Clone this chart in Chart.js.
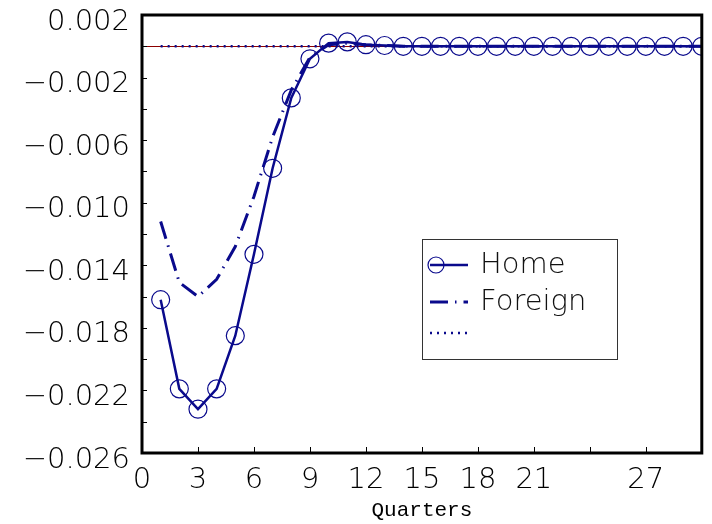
<!DOCTYPE html>
<html>
<head>
<meta charset="utf-8">
<script src="https://cdn.jsdelivr.net/npm/chart.js@4/dist/chart.umd.min.js"></script>
<style>
  html, body { margin: 0; padding: 0; background: #fff; }
  #chart { display: block; }
</style>
</head>
<body>
<canvas id="chart" width="712" height="524"></canvas>
<script>
// Data
const quarters = [1, 2, 3, 4, 5, 6, 7, 8, 9, 10, 11, 12, 13, 14, 15,
                  16, 17, 18, 19, 20, 21, 22, 23, 24, 25, 26, 27, 28, 29, 30];
const homeValues = [-0.0162, -0.0219, -0.0232, -0.0219, -0.0185, -0.0133, -0.0078, -0.0033, -0.0008, 0.0002,
                    0.00028, 0.0001, 0.00005, 0, 0, 0, 0, 0, 0, 0,
                    0, 0, 0, 0, 0, 0, 0, 0, 0, 0];
const foreignValues = [-0.0112, -0.0151, -0.0160, -0.0149, -0.0128, -0.0096, -0.0058, -0.0028, -0.0007, 0.0001,
                       0.0002, 0.0001, 0.00005, 0, 0, 0, 0, 0, 0, 0,
                       0, 0, 0, 0, 0, 0, 0, 0, 0, 0];
const zeroValues = [0, 0, 0, 0, 0, 0, 0, 0, 0, 0, 0, 0, 0, 0, 0,
                    0, 0, 0, 0, 0, 0, 0, 0, 0, 0, 0, 0, 0, 0, 0];
const seriesNames = ['Home', 'Foreign', ''];
const xTickLabels = ['0', '3', '6', '9', '12', '15', '18', '21', '', '27', ''];
const yTickLabels = ['\u22120.026', '', '\u22120.022', '', '\u22120.018', '', '\u22120.014', '',
                     '\u22120.010', '', '\u22120.006', '', '\u22120.002', '', '0.002'];

const blue = 'rgb(10, 10, 140)';
const tickFont = { family: 'DejaVu Sans', size: 29, weight: 200 };

// Frame, inward tick marks and the boxed legend
const framePlugin = {
    id: 'frame',
    afterDraw(chart) {
        const ctx = chart.ctx;
        const area = chart.chartArea;
        const xs = chart.scales.x;
        const ys = chart.scales.y;
        ctx.save();

        // tick marks pointing into the plot
        ctx.strokeStyle = '#000';
        ctx.lineWidth = 1;
        ctx.beginPath();
        xs.ticks.forEach((t, i) => {
            const px = Math.round(xs.getPixelForTick(i)) + 0.5;
            ctx.moveTo(px, area.bottom);
            ctx.lineTo(px, area.bottom - 6);
        });
        ys.ticks.forEach((t, i) => {
            const py = Math.round(ys.getPixelForTick(i)) + 0.5;
            ctx.moveTo(area.left, py);
            ctx.lineTo(area.left + 5, py);
        });
        ctx.stroke();

        // thick box round the plot
        ctx.lineWidth = 3;
        ctx.strokeRect(area.left, area.top, area.right - area.left, area.bottom - area.top);

        // legend
        const lx = 422, ly = 239, lw = 195, lh = 120;
        ctx.fillStyle = '#fff';
        ctx.fillRect(lx, ly, lw, lh);
        ctx.lineWidth = 1;
        ctx.strokeStyle = '#333';
        ctx.strokeRect(lx + 0.5, ly + 0.5, lw, lh);

        const rows = [265, 302, 333];
        chart.data.datasets.forEach((ds, i) => {
            const y = rows[i];
            ctx.strokeStyle = ds.borderColor;
            ctx.lineWidth = ds.borderWidth;
            ctx.setLineDash(ds.borderDash || []);
            ctx.beginPath();
            ctx.moveTo(lx + 8, y);
            ctx.lineTo(lx + 46, y);
            ctx.stroke();
            ctx.setLineDash([]);
            if (ds.pointRadius > 0) {
                ctx.lineWidth = ds.pointBorderWidth;
                ctx.beginPath();
                ctx.arc(lx + 14, y, 8, 0, Math.PI * 2);
                ctx.stroke();
            }
            ctx.fillStyle = '#111';
            ctx.font = '200 29px "DejaVu Sans"';
            ctx.textBaseline = 'middle';
            ctx.fillText(ds.label, lx + 58, y);
        });
        ctx.restore();
    }
};

new Chart(document.getElementById('chart'), {
    type: 'line',
    data: {
        labels: quarters,
        datasets: [{
            label: seriesNames[0],
            data: homeValues,
            borderColor: blue,
            borderWidth: 2.5,
            pointRadius: 9,
            pointBorderWidth: 1.2,
            pointBorderColor: blue,
            pointBackgroundColor: 'rgba(0,0,0,0)',
            tension: 0
        }, {
            label: seriesNames[1],
            data: foreignValues,
            borderColor: blue,
            borderWidth: 3,
            borderDash: [18, 7, 1.5, 7],
            pointRadius: 0,
            tension: 0
        }, {
            label: seriesNames[2],
            data: zeroValues,
            borderColor: blue,
            borderWidth: 2.5,
            borderDash: [2, 5],
            pointRadius: 0,
            tension: 0
        }]
    },
    options: {
        responsive: false,
        animation: false,
        layout: { padding: { top: 15, right: 10, left: 0, bottom: 0 } },
        plugins: {
            legend: { display: false },
            tooltip: { enabled: false }
        },
        scales: {
            x: {
                type: 'linear',
                min: 0,
                max: 30,
                border: { display: false },
                grid: { display: false, drawTicks: false },
                ticks: {
                    stepSize: 3,
                    autoSkip: false,
                    maxRotation: 0,
                    padding: 10,
                    color: '#000',
                    font: tickFont,
                    callback: (v, i) => xTickLabels[i]
                },
                title: {
                    display: true,
                    text: 'Quarters',
                    color: '#000',
                    font: { family: 'Liberation Mono', size: 21 },
                    padding: { top: 0, bottom: 1 }
                },
                afterFit(scale) {
                    scale.height = 71;
                    scale.paddingLeft = 0;
                    scale.paddingRight = 0;
                }
            },
            y: {
                min: -0.026,
                max: 0.002,
                border: { display: false },
                grid: {
                    drawTicks: false,
                    lineWidth: 1,
                    color: (c) => (c.tick && Math.abs(c.tick.value) < 1e-9) ? 'rgb(140, 0, 0)' : 'rgba(0,0,0,0)'
                },
                ticks: {
                    stepSize: 0.002,
                    autoSkip: false,
                    padding: 12,
                    labelOffset: 7,
                    color: '#000',
                    font: tickFont,
                    callback: (v, i) => yTickLabels[i]
                },
                afterFit(scale) {
                    scale.width = 142;
                    scale.paddingTop = 0;
                    scale.paddingBottom = 0;
                }
            }
        }
    },
    plugins: [framePlugin]
});
</script>
</body>
</html>
